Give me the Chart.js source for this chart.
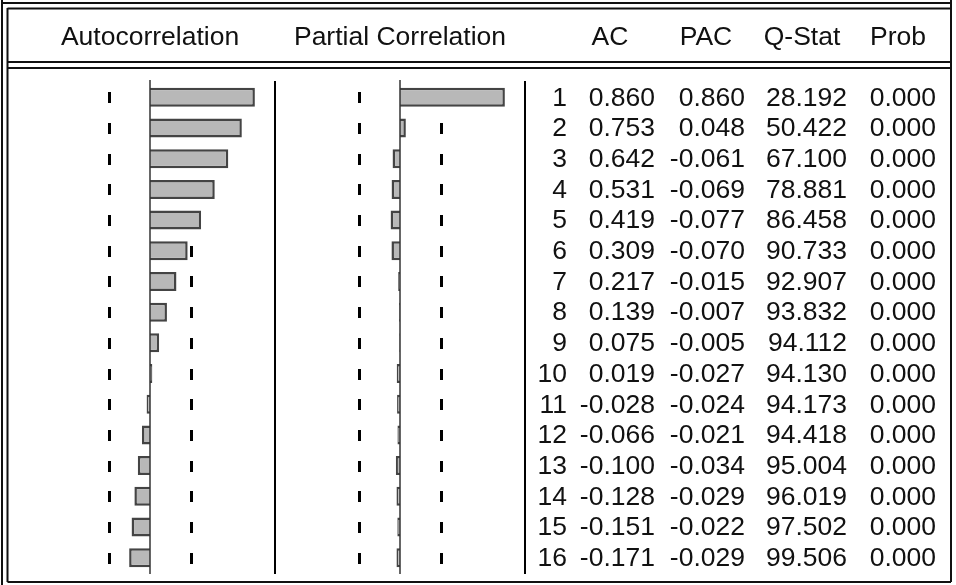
<!DOCTYPE html>
<html>
<head>
<meta charset="utf-8">
<script src="https://cdn.jsdelivr.net/npm/chart.js@4/dist/chart.umd.min.js"></script>
<style>
  body { margin: 0; background: #fff; }
  canvas { display: block; }
</style>
</head>
<body>
<canvas id="correlogram" width="956" height="585"></canvas>
<script>
// correlogram values, lags 1..16
const lags = ['1','2','3','4','5','6','7','8','9','10','11','12','13','14','15','16'];
const acf = [0.860, 0.753, 0.642, 0.531, 0.419, 0.309, 0.217, 0.139, 0.075, 0.019, -0.028, -0.066, -0.100, -0.128, -0.151, -0.171];
const pacf = [0.860, 0.048, -0.061, -0.069, -0.077, -0.070, -0.015, -0.007, -0.005, -0.027, -0.024, -0.021, -0.034, -0.029, -0.022, -0.029];
const qStat = [28.192, 50.422, 67.100, 78.881, 86.458, 90.733, 92.907, 93.832, 94.112, 94.130, 94.173, 94.418, 95.004, 96.019, 97.502, 99.506];
const prob = [0.000, 0.000, 0.000, 0.000, 0.000, 0.000, 0.000, 0.000, 0.000, 0.000, 0.000, 0.000, 0.000, 0.000, 0.000, 0.000];
const headers = ['Autocorrelation', 'Partial Correlation', 'AC', 'PAC', 'Q-Stat', 'Prob'];
const band = 0.338; // approx 2/sqrt(T), T = 35

const HALF = 1.025; // half width of each panel, in correlation units
const FONT = '26.5px "Liberation Sans", Arial, sans-serif';

const correlogramPlugin = {
    id: 'correlogram',
    beforeDatasetsDraw(chart) {
        const ctx = chart.ctx;
        const area = chart.chartArea;
        const y = chart.scales.y;
        const xa = chart.scales.xa;
        const xp = chart.scales.xp;
        ctx.save();
        // confidence band ticks, one per row
        ctx.fillStyle = '#000';
        lags.forEach((l, i) => {
            const yc = Math.round(y.getPixelForValue(i));
            [xa.getPixelForValue(-band), xa.getPixelForValue(band),
             xp.getPixelForValue(-band), xp.getPixelForValue(band)].forEach(px => {
                ctx.fillRect(Math.round(px) - 1, yc - 5, 3, 11);
            });
        });
        // panel separators
        ctx.strokeStyle = '#000';
        ctx.lineWidth = 2;
        [xa.getPixelForValue(HALF), area.right].forEach(px => {
            ctx.beginPath();
            ctx.moveTo(px, area.top - 1);
            ctx.lineTo(px, area.bottom + 1);
            ctx.stroke();
        });
        ctx.restore();
    },
    afterDatasetsDraw(chart) {
        const ctx = chart.ctx;
        const area = chart.chartArea;
        const xa = chart.scales.xa;
        const xp = chart.scales.xp;
        ctx.save();
        // zero lines
        ctx.strokeStyle = '#333';
        ctx.lineWidth = 1.5;
        [xa.getPixelForValue(0), xp.getPixelForValue(0)].forEach(px => {
            ctx.beginPath();
            ctx.moveTo(px, area.top - 2);
            ctx.lineTo(px, area.bottom + 1);
            ctx.stroke();
        });
        ctx.restore();
    },
    afterDraw(chart) {
        const ctx = chart.ctx;
        const y = chart.scales.y;
        const xa = chart.scales.xa;
        const xp = chart.scales.xp;
        ctx.save();
        // frame: double lines
        ctx.strokeStyle = '#111';
        ctx.lineWidth = 2;
        const seg = (x1, y1, x2, y2) => {
            ctx.beginPath();
            ctx.moveTo(x1, y1);
            ctx.lineTo(x2, y2);
            ctx.stroke();
        };
        seg(2, 0, 2, 585);
        seg(7.5, 8, 7.5, 582);
        seg(2, 3, 952, 3);
        seg(7.5, 8.5, 952, 8.5);
        seg(7.5, 62, 952, 62);
        seg(7.5, 68, 952, 68);
        seg(951, 0, 951, 582);
        seg(7.5, 582, 951, 582);

        // header
        ctx.fillStyle = '#111';
        ctx.font = FONT;
        ctx.textBaseline = 'alphabetic';
        ctx.textAlign = 'center';
        const headX = [xa.getPixelForValue(0), xp.getPixelForValue(0), 610, 706, 802, 898];
        headers.forEach((h, i) => ctx.fillText(h, headX[i], 45));

        // numeric columns
        ctx.textAlign = 'right';
        ctx.textBaseline = 'middle';
        lags.forEach((l, i) => {
            const yc = y.getPixelForValue(i) + 1;
            ctx.fillText(l, 567, yc);
            ctx.fillText(acf[i].toFixed(3), 655, yc);
            ctx.fillText(pacf[i].toFixed(3), 745, yc);
            ctx.fillText(qStat[i].toFixed(3), 847, yc);
            ctx.fillText(prob[i].toFixed(3), 936, yc);
        });
        ctx.restore();
    }
};

const barStyle = {
    backgroundColor: '#b8b8b8',
    borderColor: '#444',
    borderWidth: 2.5,
    borderSkipped: 'start',
    grouped: false,
    barPercentage: 0.62,
    categoryPercentage: 1
};

new Chart(document.getElementById('correlogram'), {
    type: 'bar',
    data: {
        labels: lags,
        datasets: [
            Object.assign({ label: 'AC', data: acf, xAxisID: 'xa' }, barStyle),
            Object.assign({ label: 'PAC', data: pacf, xAxisID: 'xp' }, barStyle)
        ]
    },
    options: {
        indexAxis: 'y',
        responsive: false,
        animation: false,
        layout: { padding: { left: 25, right: 431, top: 82, bottom: 12 } },
        plugins: {
            legend: { display: false },
            tooltip: { enabled: false }
        },
        scales: {
            y: { type: 'category', display: false },
            xa: { type: 'linear', axis: 'x', min: -HALF, max: 3 * HALF, display: false },
            xp: { type: 'linear', axis: 'x', min: -3 * HALF, max: HALF, display: false }
        }
    },
    plugins: [correlogramPlugin]
});
</script>
</body>
</html>
